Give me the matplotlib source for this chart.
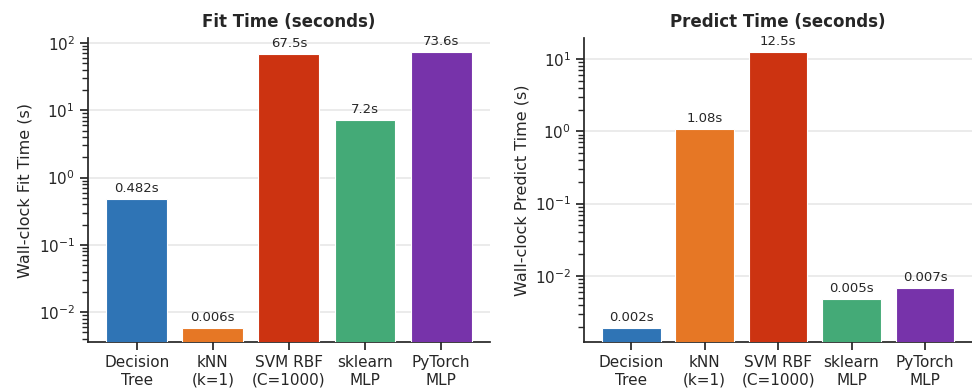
import matplotlib
matplotlib.use("Agg")
import matplotlib.pyplot as plt

# Modelle und gemessene Zeiten
models = ["Decision\nTree", "kNN\n(k=1)", "SVM RBF\n(C=1000)", "sklearn\nMLP", "PyTorch\nMLP"]
fit_times = [0.482, 0.0058, 67.5, 7.2, 73.6]
predict_times = [0.0019, 1.08, 12.5, 0.0048, 0.0068]
colors = ["#2f74b5", "#e67725", "#cc3311", "#44aa77", "#7733aa"]

titles = ["Fit Time (seconds)", "Predict Time (seconds)"]
ylabels = ["Wall-clock Fit Time (s)", "Wall-clock Predict Time (s)"]


def fmt(v):
    return f"{v:.3f}s" if v < 1 else f"{v:.3g}s"


plt.rcParams["font.family"] = "DejaVu Sans"
plt.rcParams["text.color"] = "#262626"
plt.rcParams["axes.labelcolor"] = "#262626"
plt.rcParams["xtick.color"] = "#262626"
plt.rcParams["ytick.color"] = "#262626"
plt.rcParams["axes.edgecolor"] = "#262626"
plt.rcParams["axes.linewidth"] = 1.25
plt.rcParams["xtick.major.width"] = 1.25
plt.rcParams["ytick.major.width"] = 1.25
plt.rcParams["ytick.minor.width"] = 1.0
plt.rcParams["xtick.major.size"] = 6
plt.rcParams["ytick.major.size"] = 6
plt.rcParams["ytick.minor.size"] = 4

fig = plt.figure(figsize=(9.72, 3.89), dpi=100)
ax1 = fig.add_axes([0.0905, 0.121, 0.4135, 0.781])
ax2 = fig.add_axes([0.601, 0.121, 0.399, 0.781])

for ax, vals, title, ylabel in zip([ax1, ax2], [fit_times, predict_times], titles, ylabels):
    x = range(len(models))
    bars = ax.bar(x, vals, width=0.8, color=colors, edgecolor="white", linewidth=0.8, zorder=3)
    ax.set_yscale("log")
    ax.set_xticks(list(x))
    ax.set_xticklabels(models, fontsize=11)
    ax.tick_params(axis="y", labelsize=11)
    ax.set_ylabel(ylabel, fontsize=11.5)
    ax.set_title(title, fontsize=12, fontweight="bold", pad=8)
    ax.yaxis.grid(True, color="#e8e8e8", linewidth=1.2, zorder=0)
    ax.spines["top"].set_visible(False)
    ax.spines["right"].set_visible(False)
    for b, v in zip(bars, vals):
        ax.annotate(fmt(v), (b.get_x() + b.get_width() / 2, v),
                    xytext=(0, 3), textcoords="offset points",
                    ha="center", va="bottom", fontsize=9.5)

fig.savefig("out.png", dpi=100)
